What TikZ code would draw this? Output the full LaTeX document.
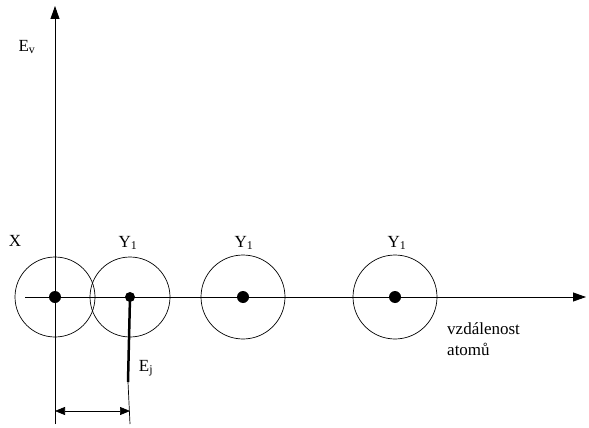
\documentclass[tikz,border=0pt]{standalone}
\usepackage{fontspec}
\setmainfont{Liberation Serif}
\usetikzlibrary{arrows.meta}
\begin{document}
\begin{tikzpicture}[x=1pt,y=-1pt,
  axis/.style={line width=0.8pt,-{Triangle[length=13pt,width=9pt]}},
  atom/.style={circle,draw,line width=0.7pt,minimum size=#1,inner sep=0pt},
  nucleus/.style={circle,fill=black,minimum size=12pt,inner sep=0pt},
  lbl/.style={font=\fontsize{17}{21}\selectfont,inner sep=1pt}]
\useasboundingbox (0,0) rectangle (589,428);
% atoms
\node[atom=80pt] (cx) at (55,297) {};
\node[atom=80pt] (c1) at (130,297) {};
\node[atom=84pt] (c2) at (243,297) {};
\node[atom=84pt] (c3) at (395,297) {};
\node[nucleus] (nx) at (55,297) {};
\node[nucleus,minimum size=10pt] (n1) at (130,297) {};
\node[nucleus] (n2) at (243,297) {};
\node[nucleus] (n3) at (395,297) {};
% axes
\coordinate (xs) at (25,297);
\coordinate (xe) at (586,297);
\coordinate (ys) at (55,424);
\coordinate (ye) at (55,6);
\draw[axis] (xs) -- (xe);
\draw[axis] (ys) -- (ye);
% E_j line
\coordinate (ej) at (128,382);
\coordinate (db) at (130,424);
\draw[line width=2.5pt] (n1.center) -- (ej);
\draw[line width=0.7pt] (ej) -- (db);
% dimension
\coordinate (d1) at (55,411);
\coordinate (d2) at (130,411);
\draw[line width=0.7pt,{Triangle[length=10pt,width=8pt]}-{Triangle[length=10pt,width=8pt]}] (d1) -- (d2);
% labels
\node[lbl] (lx) at (15,241) {X};
\node[lbl] (l1) at (128,243) {Y\textsubscript{1}};
\node[lbl] (l2) at (244,243) {Y\textsubscript{1}};
\node[lbl] (l3) at (397,243) {Y\textsubscript{1}};
\node[lbl] (lev) at (27,47) {E\textsubscript{v}};
\node[lbl] (lej) at (146,368) {E\textsubscript{j}};
\node[lbl,anchor=west,align=left] (lv) at (446,339) {vzdálenost\\atomů};
\end{tikzpicture}
\end{document}
